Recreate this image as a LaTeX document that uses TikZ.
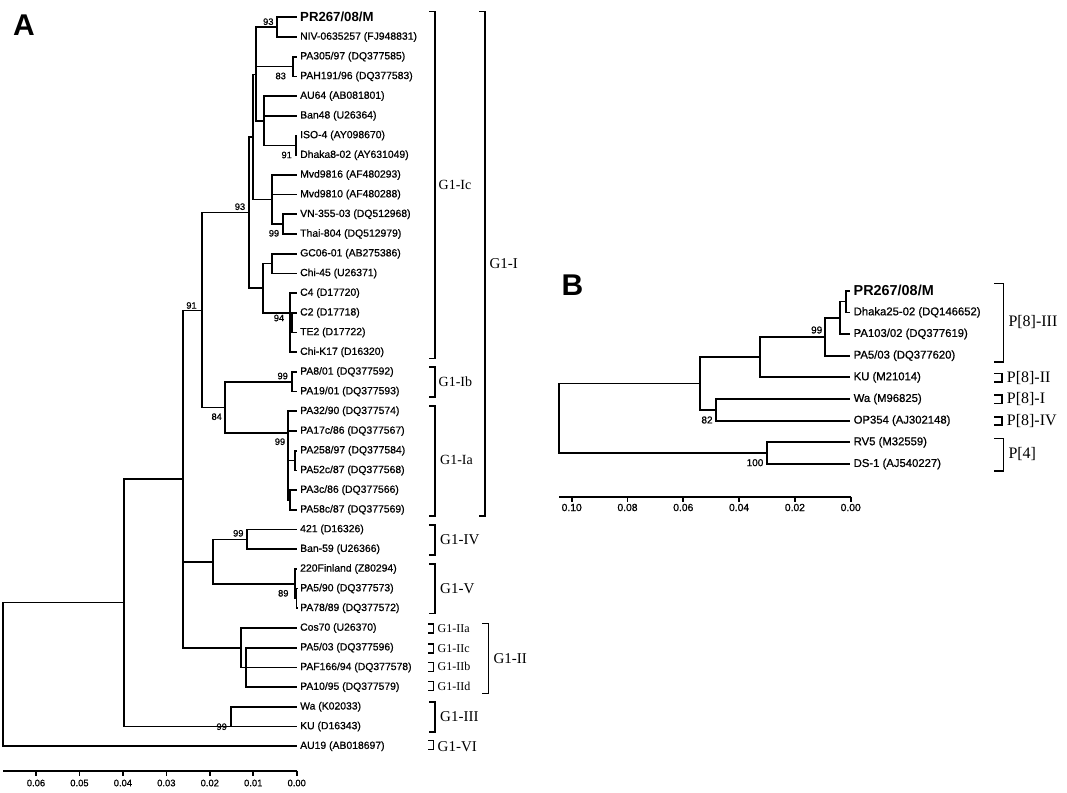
\documentclass[tikz,border=0pt]{standalone}
\usepackage{fontspec}
\setmainfont{Liberation Serif}
\newfontfamily\lsans[FakeBold=0.8]{Liberation Sans}
\newfontfamily\lsansb{Liberation Sans Bold}
\newcommand{\leafA}[3]{\coordinate (a#1) at (297,#2); \node[lbA] (la#1) at (300,#2) {#3};}
\newcommand{\leafB}[3]{\coordinate (b#1) at (850,#2); \node[lbB] (lb#1) at (853.5,#2) {#3};}
\newcommand{\brk}[5]{\draw[brk] (#1-#4,#2) -- (#1,#2) -- (#1,#3) -- (#1-#4,#3);}
\begin{document}
\begin{tikzpicture}[x=1pt,y=-1pt,
  tr/.style={line width=1.7pt},
  brk/.style={line width=1.6pt},
  lbA/.style={anchor=west, inner sep=0pt, font=\lsans\fontsize{10.4}{12}\selectfont},
  lbAb/.style={anchor=west, inner sep=0pt, font=\lsansb\fontsize{13.2}{15}\selectfont},
  lbB/.style={anchor=west, inner sep=0pt, font=\lsans\fontsize{11.3}{13}\selectfont},
  lbBb/.style={anchor=west, inner sep=0pt, font=\lsansb\fontsize{14.4}{16}\selectfont},
  bsA/.style={inner sep=0pt, font=\lsans\fontsize{9.3}{10}\selectfont},
  bsB/.style={inner sep=0pt, font=\lsans\fontsize{10}{11}\selectfont},
  tkA/.style={inner sep=0pt, font=\lsans\fontsize{9.4}{11}\selectfont},
  tkB/.style={inner sep=0pt, font=\lsans\fontsize{10.3}{12}\selectfont},
  grp/.style={anchor=west, inner sep=0pt, font=\fontsize{15}{17}\selectfont},
  grps/.style={anchor=west, inner sep=0pt, font=\fontsize{14}{16}\selectfont},
  grpt/.style={anchor=west, inner sep=0pt, font=\fontsize{12}{14}\selectfont},
  grpB/.style={anchor=west, inner sep=0pt, font=\fontsize{16}{18}\selectfont},
  panel/.style={inner sep=0pt, font=\lsansb\fontsize{30}{32}\selectfont}]
\fill[white] (0,0) rectangle (1067,792);
\useasboundingbox (0,0) rectangle (1067,792);

\node[panel] (pA) at (24,25.5) {A};
\node[panel] (pB) at (572.5,285) {B};

% ---------------- Panel A leaves
\coordinate (a0) at (297,17.3); \node[lbAb] (la0) at (300,17.3) {PR267/08/M};
\leafA{1}{37.0}{NIV-0635257 (FJ948831)}
\leafA{2}{56.7}{PA305/97 (DQ377585)}
\leafA{3}{76.4}{PAH191/96 (DQ377583)}
\leafA{4}{96.1}{AU64 (AB081801)}
\leafA{5}{115.8}{Ban48 (U26364)}
\leafA{6}{135.5}{ISO-4 (AY098670)}
\leafA{7}{155.2}{Dhaka8-02 (AY631049)}
\leafA{8}{174.9}{Mvd9816 (AF480293)}
\leafA{9}{194.6}{Mvd9810 (AF480288)}
\leafA{10}{214.3}{VN-355-03 (DQ512968)}
\leafA{11}{234.0}{Thai-804 (DQ512979)}
\leafA{12}{253.7}{GC06-01 (AB275386)}
\leafA{13}{273.4}{Chi-45 (U26371)}
\leafA{14}{293.1}{C4 (D17720)}
\leafA{15}{312.8}{C2 (D17718)}
\leafA{16}{332.5}{TE2 (D17722)}
\leafA{17}{352.2}{Chi-K17 (D16320)}
\leafA{18}{371.9}{PA8/01 (DQ377592)}
\leafA{19}{391.6}{PA19/01 (DQ377593)}
\leafA{20}{411.3}{PA32/90 (DQ377574)}
\leafA{21}{431.0}{PA17c/86 (DQ377567)}
\leafA{22}{450.7}{PA258/97 (DQ377584)}
\leafA{23}{470.4}{PA52c/87 (DQ377568)}
\leafA{24}{490.1}{PA3c/86 (DQ377566)}
\leafA{25}{509.8}{PA58c/87 (DQ377569)}
\leafA{26}{529.5}{421 (D16326)}
\leafA{27}{549.2}{Ban-59 (U26366)}
\leafA{28}{568.9}{220Finland (Z80294)}
\leafA{29}{588.6}{PA5/90 (DQ377573)}
\leafA{30}{608.3}{PA78/89 (DQ377572)}
\leafA{31}{628.0}{Cos70 (U26370)}
\leafA{32}{647.7}{PA5/03 (DQ377596)}
\leafA{33}{667.4}{PAF166/94 (DQ377578)}
\leafA{34}{687.1}{PA10/95 (DQ377579)}
\leafA{35}{706.8}{Wa (K02033)}
\leafA{36}{726.5}{KU (D16343)}
\leafA{37}{746.2}{AU19 (AB018697)}

% ---------------- Panel A internal nodes
\coordinate (rA) at (2.7,674.3);
\coordinate (n124) at (124,602.6);
\coordinate (n183) at (183.3,478.8);
\coordinate (nI) at (201.7,310.5);
\coordinate (nZ) at (249,212.4);
\coordinate (nW) at (253.3,136.7);
\coordinate (nY) at (255.7,74.5);
\coordinate (nPR) at (277.3,27.15);
\coordinate (nPA) at (293,66.55);
\coordinate (nAU) at (264,120.7);
\coordinate (nISO) at (296.3,145.35);
\coordinate (nM) at (271.7,199.5);
\coordinate (nVN) at (282.7,224.15);
\coordinate (nG) at (263.3,288);
\coordinate (nGC) at (271.7,263.55);
\coordinate (nC4) at (290,313);
\coordinate (nC2) at (292.3,322.65);
\coordinate (nIab) at (225,407.5);
\coordinate (nIb) at (291.7,381.75);
\coordinate (nIa) at (288,433.3);
\coordinate (nP1) at (295,460.55);
\coordinate (nP2) at (290,499.95);
\coordinate (nIVV) at (213.3,562);
\coordinate (nIV) at (246.7,539.35);
\coordinate (nV) at (295,583.75);
\coordinate (nV2) at (296.5,598.45);
\coordinate (nII) at (240.7,647.7);
\coordinate (nII2) at (246,667.4);
\coordinate (nIII) at (231,726.5);

\foreach \p/\c in {rA/n124, rA/a37, n124/n183, n124/nIII,
  n183/nI, n183/nIVV, n183/nII, nI/nZ, nI/nIab, nZ/nW, nZ/nG,
  nW/nY, nW/nM, nY/nPR, nY/nPA, nY/nAU, nPR/a0, nPR/a1, nPA/a2, nPA/a3,
  nAU/a4, nAU/a5, nAU/nISO, nISO/a6, nISO/a7, nM/a8, nM/a9, nM/nVN,
  nVN/a10, nVN/a11, nG/nGC, nG/nC4, nGC/a12, nGC/a13, nC4/a14, nC4/nC2,
  nC4/a17, nC2/a15, nC2/a16, nIab/nIb, nIab/nIa, nIb/a18, nIb/a19,
  nIa/a20, nIa/a21, nIa/nP1, nIa/nP2, nP1/a22, nP1/a23, nP2/a24, nP2/a25,
  nIVV/nIV, nIVV/nV, nIV/a26, nIV/a27, nV/a28, nV/nV2, nV2/a29, nV2/a30,
  nII/a31, nII/nII2, nII2/a32, nII2/a33, nII2/a34, nIII/a35, nIII/a36}
  \draw[tr] (\p) |- (\c);

% bootstrap A
\node[bsA] (bs1) at (268.3,21.7) {93};
\node[bsA] (bs2) at (280.7,76) {83};
\node[bsA] (bs3) at (286.7,155) {91};
\node[bsA] (bs4) at (240,206.7) {93};
\node[bsA] (bs5) at (274,233.3) {99};
\node[bsA] (bs6) at (279,318) {94};
\node[bsA] (bs7) at (191.5,305.5) {91};
\node[bsA] (bs8) at (282.7,376) {99};
\node[bsA] (bs9) at (216.7,416.7) {84};
\node[bsA] (bs10) at (280,441.7) {99};
\node[bsA] (bs11) at (238.3,533.3) {99};
\node[bsA] (bs12) at (283.3,593.3) {89};
\node[bsA] (bs13) at (221.7,726.7) {99};

% brackets A
\brk{435}{11.7}{358.3}{6}{}
\node[grps] (gIc) at (438.5,185) {G1-Ic};
\brk{485}{11.7}{516}{6}{}
\node[grp] (gI) at (489.3,263.3) {G1-I};
\brk{435}{366.7}{396.7}{6}{}
\node[grps] (gIb) at (438.5,381.7) {G1-Ib};
\brk{435}{406}{516}{6}{}
\node[grps] (gIa) at (440,460) {G1-Ia};
\brk{435}{525}{555}{6}{}
\node[grp] (gIV) at (440,540) {G1-IV};
\brk{435}{564}{613.3}{6}{}
\node[grp] (gV) at (440,588.3) {G1-V};
\brk{433.3}{624}{633}{5}{}
\node[grpt] (gIIa) at (437.5,628.7) {G1-IIa};
\brk{433.3}{644}{653}{5}{}
\node[grpt] (gIIc) at (437.5,648.3) {G1-IIc};
\brk{433.3}{662.5}{671.5}{5}{}
\node[grpt] (gIIb) at (437.5,666.7) {G1-IIb};
\brk{433.3}{681.5}{690.5}{5}{}
\node[grpt] (gIId) at (437.5,686) {G1-IId};
\brk{488.3}{623.3}{693.3}{6}{}
\node[grp] (gII) at (493.3,658.3) {G1-II};
\brk{435}{701.7}{731.7}{6}{}
\node[grp] (gIII) at (440,716.7) {G1-III};
\brk{433.3}{740.5}{749.5}{5}{}
\node[grp] (gVI) at (437.5,746.7) {G1-VI};

% axis A
\draw[tr] (3,770.7) -- (296.7,770.7);
\foreach \k/\t in {0/0.00,1/0.01,2/0.02,3/0.03,4/0.04,5/0.05,6/0.06}{
  \draw[tr] ({296.7-43.45*\k},770.7) -- ({296.7-43.45*\k},775.5);
  \node[tkA] at ({296.7-43.45*\k},783) {\t};
}

% ---------------- Panel B
\coordinate (b0) at (850,290.7); \node[lbBb] (lb0) at (853.5,290.7) {PR267/08/M};
\leafB{1}{312.4}{Dhaka25-02 (DQ146652)}
\leafB{2}{334.0}{PA103/02 (DQ377619)}
\leafB{3}{355.7}{PA5/03 (DQ377620)}
\leafB{4}{377.3}{KU (M21014)}
\leafB{5}{399.0}{Wa (M96825)}
\leafB{6}{420.7}{OP354 (AJ302148)}
\leafB{7}{442.3}{RV5 (M32559)}
\leafB{8}{464.0}{DS-1 (AJ540227)}

\coordinate (mPR) at (846,301.55);
\coordinate (m2) at (840,317.8);
\coordinate (m99) at (825,336.75);
\coordinate (mKU) at (760,357);
\coordinate (mWa) at (716,409.85);
\coordinate (m700) at (700,383.4);
\coordinate (mP4) at (766.7,453.15);
\coordinate (mR) at (559.3,418.3);

\foreach \p/\c in {mR/m700, mR/mP4, m700/mKU, m700/mWa, mKU/m99, mKU/b4,
  m99/m2, m99/b3, m2/mPR, m2/b2, mPR/b0, mPR/b1, mWa/b5, mWa/b6, mP4/b7, mP4/b8}
  \draw[tr] (\p) |- (\c);

\node[bsB] (bb1) at (816.7,330) {99};
\node[bsB] (bb2) at (707,420) {82};
\node[bsB] (bb3) at (755,462.7) {100};

% brackets B
\brk{1003.3}{283.3}{361.7}{9}{}
\node[grpB] (gP3) at (1008.3,321.7) {P[8]-III};
\brk{1001.7}{373.5}{382}{7.5}{}
\node[grpB] (gP2) at (1006.7,377.7) {P[8]-II};
\brk{1001.7}{395}{403.5}{7.5}{}
\node[grpB] (gP1) at (1006.7,399.3) {P[8]-I};
\brk{1001.7}{416.7}{425.2}{7.5}{}
\node[grpB] (gP4) at (1006.7,421) {P[8]-IV};
\brk{1003.3}{438.3}{470.7}{9}{}
\node[grpB] (gP44) at (1008.3,454) {P[4]};

% axis B
\draw[tr] (559.3,496.7) -- (850.7,496.7);
\foreach \k/\t in {0/0.00,1/0.02,2/0.04,3/0.06,4/0.08,5/0.10}{
  \draw[tr] ({850.7-55.8*\k},496.7) -- ({850.7-55.8*\k},501.5);
  \node[tkB] at ({850.7-55.8*\k},507.5) {\t};
}
\end{tikzpicture}
\end{document}
